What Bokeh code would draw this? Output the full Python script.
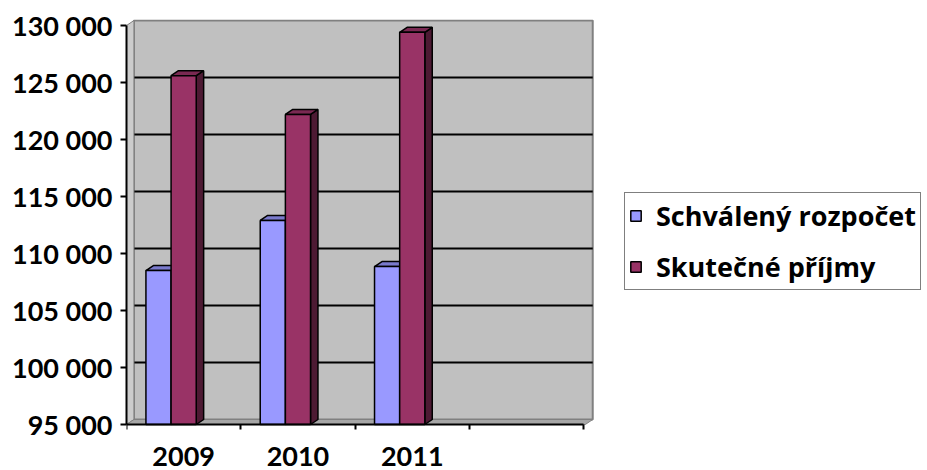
from bokeh.plotting import figure
from bokeh.models import (Range1d, FixedTicker, Legend, LegendItem, LinearAxis,
                          ColumnDataSource)
from bokeh.embed import file_html
from bokeh.resources import INLINE

# ---- data ----
categories = ["2009", "2010", "2011"]
schvaleny = [108500, 112900, 108850]
skutecne = [125600, 122200, 129400]
y_ticks = [95000, 100000, 105000, 110000, 115000, 120000, 125000, 130000]
series_names = ["Schválený rozpočet", "Skutečné příjmy"]

# ---- styling constants ----
FONT = "Lato"
LFONT = "Open Sans"
BLUE, BLUE_TOP = "#9999FF", "#7A7ACC"
RED, RED_TOP, RED_SIDE = "#993366", "#7A2952", "#4D1A33"
WALL = "#C0C0C0"
W, H = 927, 470
LEFT, TOP = 126, 19
n_slots = 4
y0 = y_ticks[0]
unit_per_px = 35000 / 399.0
x_px = 114.3
dx, dy = 0.065, 5 * unit_per_px      # oblique depth
wall_right = n_slots + 0.079
y_top = y_ticks[-1] + dy
bw = 0.22
off_blue, off_red = -0.22, 0.0

p = figure(width=W, height=H, output_backend="svg", toolbar_location=None,
           x_range=Range1d(0, (W - LEFT) / x_px),
           y_range=Range1d(y0 - 46 * unit_per_px, y_top + 1 * unit_per_px),
           min_border_left=LEFT, min_border_right=0, min_border_top=TOP,
           min_border_bottom=0)
p.background_fill_color = "white"
p.border_fill_color = "white"
p.outline_line_color = None
p.xgrid.visible = False
p.ygrid.visible = False

# back wall
p.quad(left=dx, right=wall_right, bottom=y0 + dy, top=y_top,
       fill_color=WALL, line_color="#808080", line_width=2)

# back wall gridlines (shifted for depth)
grid_src = ColumnDataSource(dict(
    x0=[dx] * (len(y_ticks) - 2), x1=[wall_right] * (len(y_ticks) - 2),
    y=[t + dy for t in y_ticks[1:-1]]))
p.segment(x0="x0", y0="y", x1="x1", y1="y", source=grid_src,
          line_color="black", line_width=2)

# left wall
p.patch([0, 0, dx, dx], [y0, y_ticks[-1], y_top, y0 + dy],
        fill_color="#CCCCCC", line_color="#808080", line_width=1)
# floor
p.patch([0, dx, wall_right, wall_right - dx], [y0, y0 + dy, y0 + dy, y0],
        fill_color="#A6A6A6", line_color="#808080", line_width=1)

xc = [i + 0.5 for i in range(len(categories))]


def bar3d(vals, offset, col, top_col, side_col):
    xs_top, ys_top, xs_side, ys_side = [], [], [], []
    xcen = [c + offset for c in xc]
    for xcn, v in zip(xcen, vals):
        a, b = xcn - bw / 2, xcn + bw / 2
        xs_top.append([a, a + dx, b + dx, b])
        ys_top.append([v, v + dy, v + dy, v])
        xs_side.append([b, b, b + dx, b + dx])
        ys_side.append([y0, v, v + dy, y0 + dy])
    p.patches(xs_side, ys_side, fill_color=side_col, line_color="black", line_width=1.5)
    p.patches(xs_top, ys_top, fill_color=top_col, line_color="black", line_width=1.5)
    return p.vbar(x=xcen, top=vals, bottom=y0, width=bw, fill_color=col,
                  line_color="black", line_width=1.5)


r_blue = bar3d(schvaleny, off_blue, BLUE, BLUE_TOP, BLUE)
r_red = bar3d(skutecne, off_red, RED, RED_TOP, RED_SIDE)

# y axis
p.yaxis.ticker = FixedTicker(ticks=y_ticks)
p.yaxis.major_label_overrides = {t: f"{t:,}".replace(",", " ") for t in y_ticks}
p.yaxis.bounds = (y0, y_ticks[-1])
p.yaxis.axis_line_color = "black"
p.yaxis.axis_line_width = 2
p.yaxis.major_tick_line_color = "black"
p.yaxis.major_tick_line_width = 2
p.yaxis.major_tick_out = 6
p.yaxis.major_tick_in = 0
p.yaxis.minor_tick_line_color = None
p.yaxis.major_label_standoff = 8
p.yaxis.major_label_text_font = FONT
p.yaxis.major_label_text_font_style = "bold"
p.yaxis.major_label_text_font_size = "27px"
p.yaxis.major_label_text_color = "black"

# x axis: line + boundary ticks
xa = p.xaxis[0]
xa.fixed_location = y0
xa.ticker = FixedTicker(ticks=list(range(n_slots + 1)))
xa.major_label_overrides = {i: "" for i in range(n_slots + 1)}
xa.bounds = (0, n_slots)
xa.axis_line_color = "black"
xa.axis_line_width = 2
xa.major_tick_line_color = "black"
xa.major_tick_line_width = 2
xa.major_tick_out = 5
xa.major_tick_in = 0
xa.minor_tick_line_color = None

# x axis: category labels
xl = LinearAxis(fixed_location=y0,
                ticker=FixedTicker(ticks=xc),
                major_label_overrides={c: t for c, t in zip(xc, categories)},
                axis_line_color=None, major_tick_line_color=None,
                minor_tick_line_color=None, major_label_standoff=16,
                major_label_text_font=FONT, major_label_text_font_style="bold",
                major_label_text_font_size="27px", major_label_text_color="black")
p.add_layout(xl, "below")

legend = Legend(items=[LegendItem(label=series_names[0], renderers=[r_blue]),
                       LegendItem(label=series_names[1], renderers=[r_red])],
                location=(624 - LEFT, H - 290))
legend.label_text_font = LFONT
legend.label_text_font_style = "bold"
legend.label_text_font_size = "27px"
legend.label_text_color = "black"
legend.glyph_width = 13
legend.glyph_height = 13
legend.label_standoff = 14
legend.padding = 4
legend.spacing = 14
legend.margin = 0
legend.border_line_color = "black"
legend.border_line_width = 1
legend.background_fill_color = "white"
legend.background_fill_alpha = 1
p.add_layout(legend)

open("out.html", "w").write(file_html(p, INLINE))
